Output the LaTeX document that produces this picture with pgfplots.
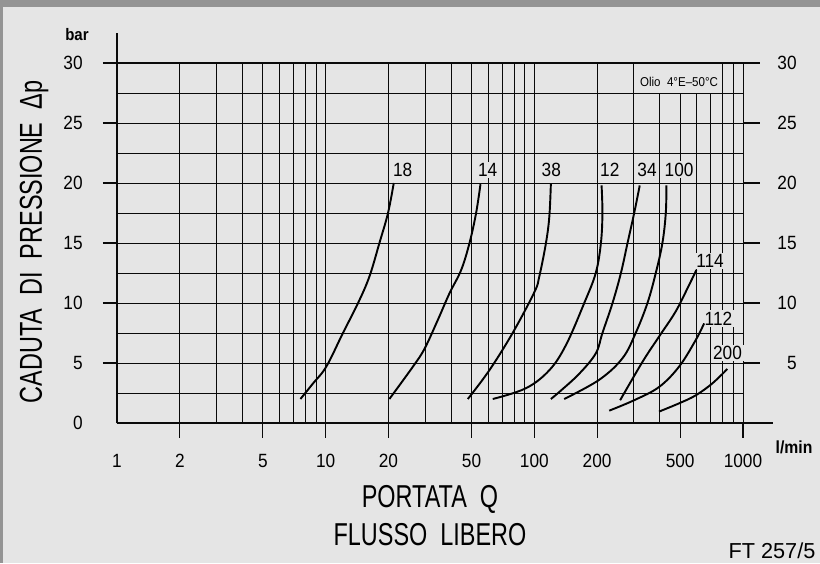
\documentclass[border=0pt]{standalone}
\usepackage{pgfplots}
\pgfplotsset{compat=1.18}
\usepackage{fontspec}
\setmainfont{Liberation Sans}
\newfontfamily\condfont{Liberation Sans}[FakeStretch=0.74]
\newfontfamily\tickfont{Liberation Sans}[FakeStretch=0.9]
\definecolor{bg}{RGB}{229,229,229}
\definecolor{gridc}{RGB}{10,10,10}
\tikzset{
  lbl/.style={fill=bg, inner sep=1pt, font=\tickfont\fontsize{11.5}{13}\selectfont},
}
\pgfplotsset{
  curve/.style={black, line width=1.15pt, smooth, tension=0.6, no markers},
}
\begin{document}
\begin{tikzpicture}
\fill[bg] (-70.2pt,-84pt) rectangle (421.8pt,253.8pt);
\fill[black!42] (-70.2pt,249.6pt) rectangle (421.8pt,253.8pt);
\fill[black!42] (-70.2pt,-84pt) rectangle (-68.4pt,253.8pt);
\useasboundingbox (-70.2pt,-84pt) rectangle (421.8pt,253.8pt);
\begin{axis}[
  at={(0,0)}, anchor=south west,
  scale only axis, width=375.6pt, height=216pt,
  xmode=log, xmin=1, xmax=1000, ymin=0, ymax=30,
  axis line style={draw=none},
  xtick={1,2,5,10,20,50,100,200,500,1000},
  xticklabels={1,2,5,10,20,50,100,200,500,1000},
  minor xtick={3,4,6,7,8,9,30,40,60,70,80,90,300,400,600,700,800,900},
  ytick={0,5,10,15,20,25,30},
  yticklabels={0,5,10,15,20,25,30},
  minor ytick={2.5,7.5,12.5,17.5,22.5,27.5},
  grid=both,
  major grid style={gridc, line width=0.6pt},
  minor grid style={gridc, line width=0.6pt},
  major tick length=0pt, minor tick length=0pt,
  tick style={draw=none},
  /pgf/number format/assume math mode=true,
  ticklabel style={font=\tickfont\fontsize{11.5}{13}\selectfont},
  xticklabel style={anchor=center, yshift=-22.8pt},
  yticklabel style={anchor=east, inner sep=0pt, xshift=-20.4pt},
  clip=false,
  xlabel={PORTATA\ \ Q\\FLUSSO\ \ LIBERO},
  ylabel={CADUTA\ \ DI\ \ PRESSIONE\ \ Δp},
  xlabel style={at={(axis description cs:0.5,-0.2583)}, anchor=center, align=center, font=\condfont\fontsize{19}{22.8}\selectfont},
  ylabel style={at={(axis description cs:-0.1326,0.503)}, anchor=center, font=\condfont\fontsize{19}{22.8}\selectfont},
]
% frame pieces
\draw[gridc, line width=0.9pt] (axis cs:1,0) -- (axis cs:1,32.5);
\draw[gridc, line width=0.75pt] (axis cs:1,0) -- ([xshift=18pt]axis cs:1000,0);
\draw[gridc, line width=0.75pt] ([xshift=-8.4pt]axis cs:1,30) -- ([xshift=10.2pt]axis cs:1000,30);
\pgfplotsinvokeforeach{5,10,15,20,25}{
  \draw[gridc, line width=0.7pt] ([xshift=-8.4pt]axis cs:1,#1) -- (axis cs:1,#1);
  \draw[gridc, line width=0.7pt] (axis cs:1000,#1) -- ([xshift=10.2pt]axis cs:1000,#1);
}
\pgfplotsinvokeforeach{2,5,10,20,50,100,200,500,1000}{
  \draw[gridc, line width=0.7pt] (axis cs:#1,0) -- ([yshift=-9pt]axis cs:#1,0);
}
% oil box
\draw[fill=bg, draw=gridc, line width=0.6pt] (axis cs:300,27.5) rectangle (axis cs:800,30);
\node[font=\tickfont\fontsize{7.7}{9}\selectfont] at (axis cs:494,28.4) {Olio\ \ 4°E–50°C};
% curve labels
\node[lbl] at (axis cs:23.4,21.1) {18};
\node[lbl] at (axis cs:59.8,21.1) {14};
\node[lbl] at (axis cs:120.6,21.1) {38};
\node[lbl] at (axis cs:230,21.1) {12};
\node[lbl] at (axis cs:347,21.1) {34};
\node[lbl] at (axis cs:494,21.1) {100};
\node[lbl] at (axis cs:695,13.5) {114};
\node[lbl] at (axis cs:763,8.7) {112};
\node[lbl] at (axis cs:843,5.83) {200};
% curves
\addplot[curve] coordinates {(7.57,2.0) (8.7,3.3) (10.07,4.7) (12.1,7.5) (14.3,10) (16.2,12.2) (18.1,15) (19.9,17.5) (21.2,20)};
\addplot[curve] coordinates {(20.2,2.0) (26.2,4.7) (29.8,6.2) (34.5,8.6) (39.2,10.8) (44.6,12.75) (48.9,15) (52.6,17.5) (55.2,19.9)};
\addplot[curve] coordinates {(48,2.0) (60.9,4.4) (78.7,7.5) (100,10.9) (105.6,12.2) (113.7,15) (118,17.2) (120,19.9)};
\addplot[curve] coordinates {(63.2,2.0) (91.2,2.9) (118,4.4) (141.8,6.5) (173.5,10) (197,12.5) (208.5,15) (212,17.5) (210,19.8)};
\addplot[curve] coordinates {(120,2.0) (132,2.6) (164,4.1) (197,5.8) (212,7.5) (237,10) (260,12.5) (279.7,15) (301,17.5) (320,19.8)};
\addplot[curve] coordinates {(139,2.0) (204.6,3.6) (264.6,5.4) (306,7.5) (348.5,10) (382,12.5) (411,15) (426.6,17.5) (429.6,19.8)};
\addplot[curve] coordinates {(257.8,1.9) (330,5.1) (396,7.2) (476,9.3) (551.6,11.5) (598,12.75)};
\addplot[curve] coordinates {(228.5,1.03) (301,1.9) (396,3.0) (494,4.7) (593,6.9) (651,8.3)};
\addplot[curve] coordinates {(396,0.95) (494,1.64) (593,2.3) (713,3.3) (841,4.5)};
\end{axis}
\begin{axis}[
  at={(0,0)}, anchor=south west,
  scale only axis, width=375.6pt, height=216pt,
  xmode=log, xmin=1, xmax=1000, ymin=0, ymax=30,
  axis line style={draw=none},
  xtick=\empty,
  ytick={5,10,15,20,25,30},
  yticklabels={5,10,15,20,25,30},
  yticklabel pos=right,
  major tick length=0pt, tick style={draw=none},
  /pgf/number format/assume math mode=true,
  yticklabel style={anchor=east, inner sep=0pt, xshift=32.4pt, font=\tickfont\fontsize{11.5}{13}\selectfont},
]
\end{axis}
\node[font=\bfseries\tickfont\fontsize{10}{12}\selectfont] at (-24pt,232.8pt) {bar};
\node[font=\bfseries\tickfont\fontsize{10.5}{12}\selectfont] at (406.2pt,-14.4pt) {l/min};
\node[font=\fontsize{13}{15}\selectfont, anchor=base] at (393pt,-81pt) {FT 257/5};
\end{tikzpicture}
\end{document}
